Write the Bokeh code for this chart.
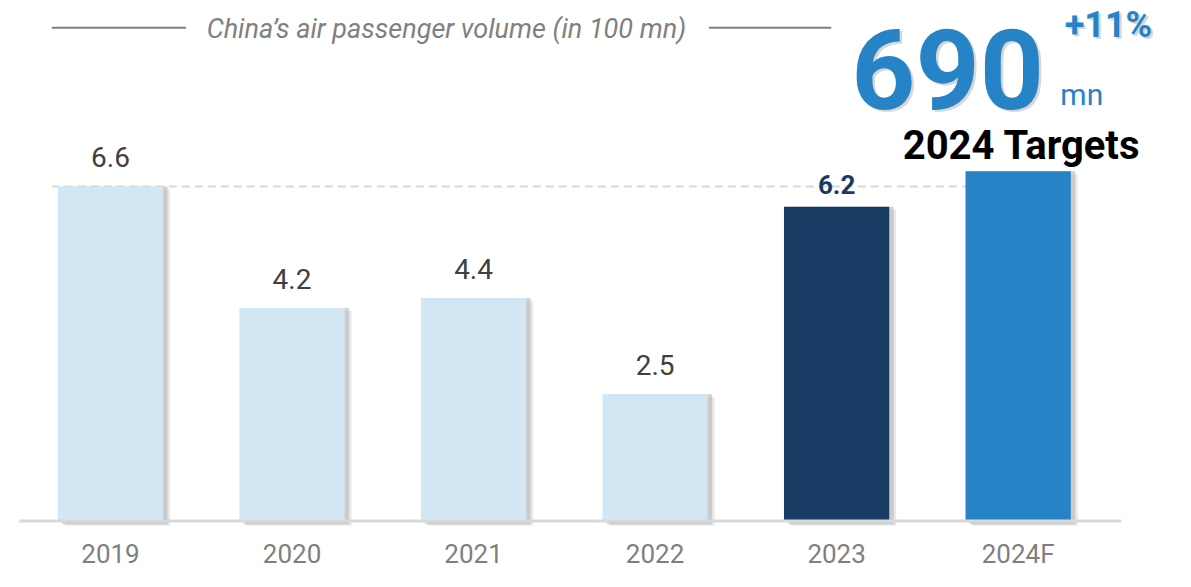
from bokeh.plotting import figure
from bokeh.models import ColumnDataSource, Range1d, Label
from bokeh.core.properties import value
from bokeh.embed import file_html
from bokeh.resources import INLINE

# ---- data ----
years = ["2019", "2020", "2021", "2022", "2023", "2024F"]
volumes = [6.6, 4.2, 4.4, 2.5, 6.2, 6.9]
value_labels = ["6.6", "4.2", "4.4", "2.5", "6.2", ""]
bar_colors = ["#D2E6F4", "#D2E6F4", "#D2E6F4", "#D2E6F4", "#173B63", "#2683C6"]
title_text = "China\u2019s air passenger volume (in 100 mn)"
target_value = "690"
target_growth = "+11%"
target_unit = "mn"
target_caption = "2024 Targets"

FONT = "Roboto"

W, H = 1175, 571
REF_W, REF_H = 1191, 587
PXX = 184.0   # reference pixels per category
PXY = 52.1    # reference pixels per unit of volume


def X(ref_x):
    return (ref_x - 111.5) / PXX


def Y(ref_y):
    return (535 - ref_y) / PXY


p = figure(width=W, height=H, output_backend="svg", toolbar_location=None,
           x_range=Range1d(X(0), X(REF_W)), y_range=Range1d(Y(REF_H), Y(0)),
           min_border=0, outline_line_color=None)
p.axis.visible = False
p.grid.visible = False
p.background_fill_color = "white"
p.border_fill_color = "white"

xs = list(range(len(years)))
src = ColumnDataSource(dict(x=xs, top=volumes, color=bar_colors,
                            lab=value_labels, year=years))

# dashed reference line at 2019 level
p.segment(x0=[X(52)], y0=[volumes[0]], x1=[X(1084)], y1=[volumes[0]],
          line_color="#D9D9D9", line_width=2, line_dash="8 5")

# bar shadows
sh = ColumnDataSource(dict(x=[x + 4.5 / PXX for x in xs], top=volumes,
                           bottom=[-3.5 / PXY] * len(xs)))
p.vbar(x="x", top="top", bottom="bottom", width=0.58, source=sh,
       fill_color="#9E9E9E", fill_alpha=0.45, line_color=None)
sh2 = ColumnDataSource(dict(x=[x + 7 / PXX for x in xs],
                            top=[v - 3 / PXY for v in volumes],
                            bottom=[-5 / PXY] * len(xs)))
p.vbar(x="x", top="top", bottom="bottom", width=0.58, source=sh2,
       fill_color="#BDBDBD", fill_alpha=0.35, line_color=None)

# bars
p.vbar(x="x", top="top", bottom=0, width=0.58, source=src,
       fill_color="color", line_color=None)

# baseline
p.segment(x0=[X(19)], y0=[0], x1=[X(1136)], y1=[0],
          line_color="#D9D9D9", line_width=3)

# value labels (regular for history, bold for 2023)
reg = ColumnDataSource(dict(x=xs[:4], y=volumes[:4], t=value_labels[:4]))
p.text(x="x", y="y", text="t", source=reg, text_align="center",
       text_baseline="middle", y_offset=-29, text_color="#404040",
       text_font=value(FONT), text_font_size="28px")
bold = ColumnDataSource(dict(x=[xs[4]], y=[volumes[4]], t=[value_labels[4]]))
p.text(x="x", y="y", text="t", source=bold, text_align="center",
       text_baseline="middle", y_offset=-22, text_color="#173B63",
       text_font=value(FONT), text_font_size="26px", text_font_style="bold")

# category labels
p.text(x="x", y=0, text="year", source=src, text_align="center",
       text_baseline="middle", y_offset=33, text_color="#7F7F7F",
       text_font=value(FONT), text_font_size="26px")

# title with side lines
p.segment(x0=[X(52), X(718)], y0=[Y(28), Y(28)], x1=[X(188), X(842)], y1=[Y(28), Y(28)],
          line_color="#7F7F7F", line_width=2)
p.add_layout(Label(x=X(452), y=Y(29), text=title_text, text_align="center",
                   text_baseline="middle", text_color="#808080",
                   text_font=FONT, text_font_size="27px", text_font_style="italic"))

# target annotations
for dx, col, alpha in [(2.5, "#8C8C8C", 0.35), (0, "#2683C6", 1.0)]:
    p.add_layout(Label(x=X(960 + dx), y=Y(70 + dx), text=target_value, text_align="center",
                       text_baseline="middle", text_color=col, text_alpha=alpha,
                       text_font=FONT, text_font_size="112px", text_font_style="bold"))
    p.add_layout(Label(x=X(1123 + dx), y=Y(25 + dx), text=target_growth, text_align="center",
                       text_baseline="middle", text_color=col, text_alpha=alpha,
                       text_font=FONT, text_font_size="36px", text_font_style="bold"))
p.add_layout(Label(x=X(1096), y=Y(97), text=target_unit, text_align="center",
                   text_baseline="middle", text_color="#2683C6",
                   text_font=FONT, text_font_size="30px"))
p.add_layout(Label(x=X(1035), y=Y(149), text=target_caption, text_align="center",
                   text_baseline="middle", text_color="#000000",
                   text_font=FONT, text_font_size="40px", text_font_style="bold"))

open("out.html", "w").write(file_html(p, INLINE))
